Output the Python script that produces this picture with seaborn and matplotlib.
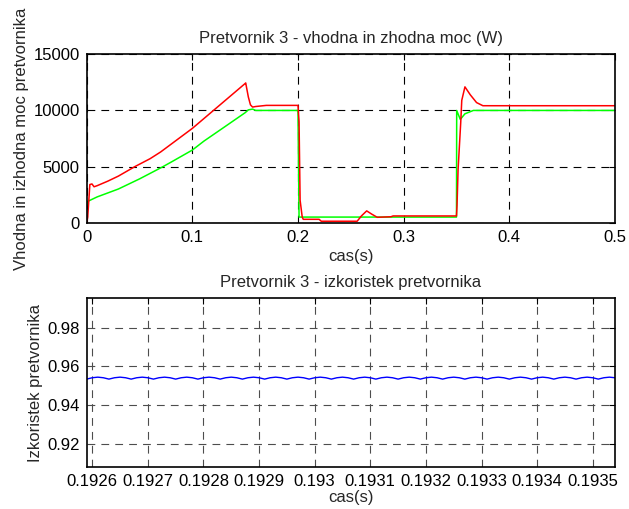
import numpy as np
import pandas as pd
import matplotlib
matplotlib.use('Agg')
import matplotlib.pyplot as plt
import seaborn as sns
from matplotlib.ticker import FormatStrFormatter

# top plot: input (red) and output (green) power
t_in = [0.0, 0.001, 0.003, 0.005, 0.007, 0.01, 0.02, 0.03, 0.0457, 0.06, 0.07, 0.08,
        0.09, 0.1, 0.11, 0.12, 0.13, 0.14, 0.15, 0.1505, 0.153, 0.155, 0.157, 0.16,
        0.165, 0.17, 0.2, 0.201, 0.202, 0.204, 0.205, 0.22, 0.222, 0.256, 0.26,
        0.265, 0.27, 0.275, 0.288, 0.29, 0.35, 0.3505, 0.3515, 0.354, 0.355, 0.358,
        0.363, 0.369, 0.375, 0.5]
p_in = [0, 500, 3400, 3450, 3200, 3300, 3700, 4150, 5000, 5700, 6300, 7000,
        7700, 8400, 9200, 10000, 10800, 11600, 12400, 12450, 11200, 10500, 10300, 10350,
        10400, 10450, 10450, 9000, 2000, 500, 300, 300, 130, 130, 600,
        1050, 750, 480, 530, 600, 600, 1500, 4700, 8900, 10900, 12100,
        11400, 10700, 10420, 10420]

t_out = [0.0, 0.001, 0.01, 0.03, 0.05, 0.071, 0.08, 0.1, 0.111, 0.13, 0.15, 0.153,
         0.157, 0.16, 0.2, 0.2005, 0.201, 0.35, 0.3502, 0.3536, 0.358, 0.366, 0.5]
p_out = [1500, 1900, 2300, 3000, 3900, 4930, 5400, 6470, 7270, 8500, 9800, 10050,
         10120, 10000, 10000, 5000, 500, 500, 10000, 9200, 9700, 10000, 10000]

# bottom plot: efficiency, one sample every 10 us (ripple ~40 us)
t_eff = np.round(np.arange(0.19259, 0.193551, 0.00001), 5)
eff = [0.9535, 0.9542, 0.9545, 0.9542, 0.9535, 0.9542, 0.9545, 0.9542,
       0.9535, 0.9542, 0.9545, 0.9542, 0.9535, 0.9542, 0.9545, 0.9542,
       0.9535, 0.9542, 0.9545, 0.9542, 0.9535, 0.9542, 0.9545, 0.9542,
       0.9535, 0.9542, 0.9545, 0.9542, 0.9535, 0.9542, 0.9545, 0.9542,
       0.9535, 0.9542, 0.9545, 0.9542, 0.9535, 0.9542, 0.9545, 0.9542,
       0.9535, 0.9542, 0.9545, 0.9542, 0.9535, 0.9542, 0.9545, 0.9542,
       0.9535, 0.9542, 0.9545, 0.9542, 0.9535, 0.9542, 0.9545, 0.9542,
       0.9535, 0.9542, 0.9545, 0.9542, 0.9535, 0.9542, 0.9545, 0.9542,
       0.9535, 0.9542, 0.9545, 0.9542, 0.9535, 0.9542, 0.9545, 0.9542,
       0.9535, 0.9542, 0.9545, 0.9542, 0.9535, 0.9542, 0.9545, 0.9542,
       0.9535, 0.9542, 0.9545, 0.9542, 0.9535, 0.9542, 0.9545, 0.9542,
       0.9535, 0.9542, 0.9545, 0.9542, 0.9535, 0.9542, 0.9545, 0.9542,
       0.9535]

top_xticks = [0, 0.1, 0.2, 0.3, 0.4, 0.5]
top_yticks = [0, 5000, 10000, 15000]
bot_xticks = [0.1926, 0.1927, 0.1928, 0.1929, 0.1930, 0.1931, 0.1932, 0.1933, 0.1934, 0.1935]
bot_yticks = [0.92, 0.94, 0.96, 0.98]

sns.set_style('white')
plt.rcParams['font.family'] = ['Liberation Sans', 'DejaVu Sans']
plt.rcParams['font.size'] = 12

fig = plt.figure(figsize=(6.29, 5.09), dpi=100)
ax1 = fig.add_axes([0.1378, 0.5625, 0.8399, 0.3308])
ax2 = fig.add_axes([0.1378, 0.0831, 0.8399, 0.3308])

df_in = pd.DataFrame({'t': t_in, 'p': p_in})
df_out = pd.DataFrame({'t': t_out, 'p': p_out})
df_eff = pd.DataFrame({'t': t_eff[:len(eff)], 'eta': eff})

sns.lineplot(data=df_out, x='t', y='p', color='#00ff00', lw=1.1, ax=ax1,
             estimator=None, sort=False)
sns.lineplot(data=df_in, x='t', y='p', color='#ff0000', lw=1.1, ax=ax1,
             estimator=None, sort=False)
sns.lineplot(data=df_eff, x='t', y='eta', color='#0000ff', lw=1.0, ax=ax2,
             estimator=None, sort=False)

ax1.set_xlim(0, 0.5)
ax1.set_ylim(0, 15000)
ax1.set_xticks(top_xticks)
ax1.set_yticks(top_yticks)
ax1.xaxis.set_major_formatter(FormatStrFormatter('%g'))
ax1.set_title('Pretvornik 3 - vhodna in zhodna moc (W)', fontsize=12, pad=8)
ax1.set_xlabel('cas(s)', fontsize=12, labelpad=3)
ax1.set_ylabel('Vhodna in izhodna moc pretvornika', fontsize=12, labelpad=3)

ax2.set_xlim(0.19259, 0.19354)
ax2.set_ylim(0.9085, 0.995)
ax2.set_xticks(bot_xticks)
ax2.set_yticks(bot_yticks)
ax2.xaxis.set_major_formatter(FormatStrFormatter('%g'))
ax2.yaxis.set_major_formatter(FormatStrFormatter('%g'))
ax2.set_title('Pretvornik 3 - izkoristek pretvornika', fontsize=12, pad=8)
ax2.set_xlabel('cas(s)', fontsize=12, labelpad=1)
ax2.set_ylabel('Izkoristek pretvornika', fontsize=12, labelpad=3)

for ax, gc in ((ax1, 'k'), (ax2, '0.3')):
    ax.grid(True, color=gc, linestyle=(0, (7, 5.5)), linewidth=0.8)
    ax.tick_params(direction='in', length=4, width=0.8, top=True, right=True,
                   labelsize=12, pad=5, colors='k')
    for s in ax.spines.values():
        s.set_visible(True)
        s.set_color('k')
        s.set_linewidth(1.2)

plt.savefig('out.png', dpi=100)
